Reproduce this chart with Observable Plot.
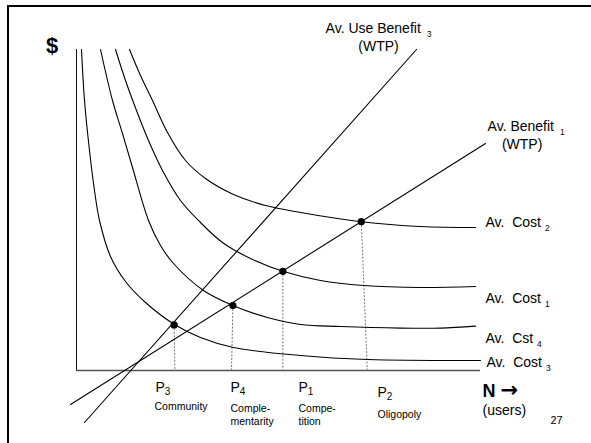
<!DOCTYPE html>
<html><head><meta charset="utf-8">
<script src="https://cdn.jsdelivr.net/npm/d3@7"></script>
<script src="https://cdn.jsdelivr.net/npm/@observablehq/plot@0.6"></script>
<style>
html,body{margin:0;padding:0;background:#fff;}
#wrap{position:relative;width:591px;height:443px;overflow:hidden;font-family:"Liberation Sans",Arial,sans-serif;}
#chart{position:absolute;left:0;top:0;}
#frame{position:absolute;left:7px;top:5px;width:700px;height:600px;border-left:2.5px solid #000;border-top:2.5px solid #000;}
</style></head><body>
<div id="wrap"><div id="chart"></div><div id="frame"></div></div>
<script>
// ---- data (N users on x, $ on y, arbitrary units) ----
const avCost2 = [[13.25,80.25],[16,73.75],[19,67.5],[22.75,59.5],[27.25,52.5],[32.25,48],[39.25,44],[47.25,41.25],[56,39.5],[71.2,37.2],[86,36],[99.75,35.75]];
const avCost1 = [[9.75,80.25],[12.25,72.5],[15,65],[18,57.5],[21.5,50],[26,42.5],[31,37],[36.5,32],[43.5,28],[51.6,24.8],[61,22.5],[71.75,21.25],[86,20.75],[99.75,21]];
const avCst4  = [[6,80.25],[9,67.5],[11.5,59.25],[14,50.75],[18,37.5],[21,31.25],[24.25,26.75],[31.75,20],[39.1,16.25],[47.75,13.25],[56,11.5],[66,11],[81,10.6],[91,10.6],[99.75,11.1]];
const avCost3 = [[1.25,80.25],[2,67.5],[3.25,55],[4.5,45],[5.75,37.5],[8.5,28.5],[12.25,22.25],[17.25,17],[24.5,11.5],[31,8.25],[39.25,5.75],[56,3.75],[72.75,2.75],[101,2.5]];
const useBenefit3 = [[2,-13],[85,80.25]];
const benefit1 = [[-1.5,-8.5],[102.25,56.75]];

const costNames = ["Av.\u00a0\u00a0Cost\u00a0","Av.\u00a0\u00a0Cost\u00a0","Av.\u00a0\u00a0Cst\u00a0","Av.\u00a0\u00a0Cost\u00a0"];
const costSubs = ["2","1","4","3"];
const costLabelX = [102.25,102.25,102.25,102.5];
const costLabelY = [36.9,17.9,7.9,1.9];

const benefitNames = ["Av. Use Benefit\u00a0","Av. Benefit\u00a0"];
const benefitSubs = ["3","1"];
const benefitLabelX = [75.5,112.4];
const benefitLabelY = [85.4,61.1];
const wtpLabelX = [75.5,111.4];
const wtpLabelY = [81.1,56.6];

const eqNames = ["P","P","P","P"];
const eqSubs = ["3","4","1","2"];
const eqDesc = ["Community","Comple-\nmentarity","Compe-\ntition","Oligopoly"];
const eqX = [24.4,39.1,51.6,71.2];
const eqY = [11.4,16.25,24.8,37.2];
const eqBaseX = [24.6,38.75,51.6,72.7];
const eqLabelX = [19.75,38.5,55.5,75.25];
const eqLabelY = [-4.25,-4.25,-4.25,-5.6];
const eqDescX = [19.5,38.5,55.5,75.25];
const eqDescY = [-7.6,-8.0,-8.0,-9.4];

const axisXMax = 101;
const axisYMax = 80.25;

// ---- build tables ----
const curveTable = [["Av. Cost 2",avCost2],["Av. Cost 1",avCost1],["Av. Cst 4",avCst4],["Av. Cost 3",avCost3]]
  .flatMap(([n,pts]) => pts.map(([x,y]) => ({name:n,x,y})));
const lineTable = [["Use3",useBenefit3],["Ben1",benefit1]]
  .flatMap(([n,pts]) => pts.map(([x,y]) => ({name:n,x,y})));
const eq = eqNames.map((n,i)=>({name:n, x:eqX[i], y:eqY[i], bx:eqBaseX[i], lx:eqLabelX[i], ly:eqLabelY[i], dx:eqDescX[i], dy:eqDescY[i], desc:eqDesc[i]}));
const costLabels = costNames.map((t,i)=>({t, x:costLabelX[i], y:costLabelY[i]}));
const benLabels = benefitNames.map((t,i)=>({t, x:benefitLabelX[i], y:benefitLabelY[i], wx:wtpLabelX[i], wy:wtpLabelY[i]}));

const FONT = "Liberation Sans, Arial, Helvetica, sans-serif";
const plot = Plot.plot({
  width: 591, height: 443,
  marginLeft: 76, marginRight: 115, marginTop: 50, marginBottom: 73,
  x: {domain:[0,100], axis:null},
  y: {domain:[0,80], axis:null},
  style: {fontFamily: FONT, background:"white", overflow:"visible"},
  marks: [
    Plot.ruleX([0], {y1:0, y2:axisYMax, stroke:"#111", strokeWidth:1}),
    Plot.ruleY([0], {x1:0, x2:axisXMax, stroke:"#555", strokeWidth:1.4}),
    Plot.link(eq, {x1:"x", y1:"y", x2:"bx", y2:0, stroke:"#777", strokeWidth:1, strokeDasharray:"2,1.5"}),
    Plot.line(curveTable, {x:"x", y:"y", z:"name", curve:"catmull-rom", stroke:"#000", strokeWidth:1.1}),
    Plot.line(lineTable, {x:"x", y:"y", z:"name", stroke:"#000", strokeWidth:1.1}),
    Plot.dot(eq, {x:"x", y:"y", r:3.6, fill:"#000", stroke:null}),
    Plot.text(costLabels, {x:"x", y:"y", text:"t", textAnchor:"start", fontSize:14, fill:"#010101"}),
    Plot.text(benLabels, {x:"x", y:"y", text:"t", textAnchor:"middle", fontSize:14, fill:"#020202"}),
    Plot.text(benLabels, {x:"wx", y:"wy", text:()=>"(WTP)", textAnchor:"middle", fontSize:14, fill:"#000"}),
    Plot.text(eq, {x:"lx", y:"ly", text:"name", textAnchor:"start", fontSize:14, fill:"#030303"}),
    Plot.text(eq, {x:"dx", y:"dy", text:"desc", textAnchor:"start", lineAnchor:"top", lineHeight:1.27, fontSize:10.5, fill:"#000"}),
    Plot.text(["$"], {x:-7.6, y:81.1, text:d=>d, textAnchor:"start", fontSize:22, fontWeight:"bold", fill:"#000"}),
    Plot.text(["N\u00a0"], {x:101.5, y:-5.3, text:d=>d, textAnchor:"start", fontSize:18, fontWeight:"bold", fill:"#040404"}),
    Plot.text(["(users)"], {x:101.5, y:-10.1, text:d=>d, textAnchor:"start", fontSize:14, fill:"#000"}),
    Plot.text(["27"], {x:118.5, y:-12.4, text:d=>d, textAnchor:"start", fontSize:11, fill:"#000"})
  ]
});
document.getElementById("chart").appendChild(plot);

function addSubs(fill, subs, size, dy, dx, family, weight) {
  const texts = plot.querySelectorAll(`g[fill="${fill}"] text`);
  texts.forEach((t,i)=>{
    const ts = document.createElementNS("http://www.w3.org/2000/svg","tspan");
    ts.setAttribute("font-size", size);
    ts.setAttribute("dy", dy);
    if (dx) ts.setAttribute("dx", dx);
    if (family) ts.setAttribute("font-family", family);
    if (weight) ts.setAttribute("font-weight", weight);
    ts.textContent = subs[i];
    t.appendChild(ts);
  });
}
addSubs("#010101", costSubs, 8.5, 4, 0);
addSubs("#020202", benefitSubs, 8.5, 4, 2);
addSubs("#030303", eqSubs, 10, 3, 0);
addSubs("#040404", ["\u2192"], 21, 0, 0, "DejaVu Sans", "bold");
</script>
</body></html>
